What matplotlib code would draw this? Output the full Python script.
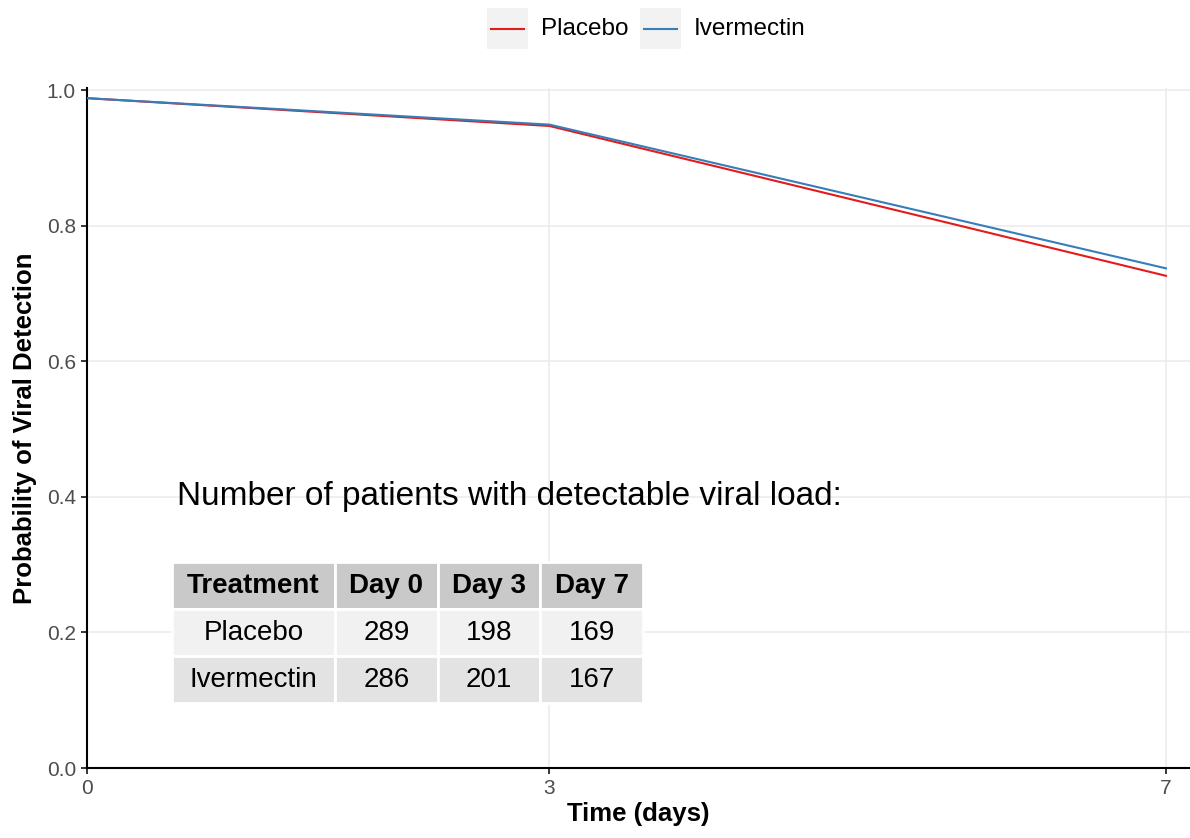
import matplotlib.pyplot as plt
from matplotlib.lines import Line2D
from matplotlib.patches import Rectangle

plt.rcParams['font.family'] = ['Liberation Sans', 'DejaVu Sans']

# survival-style curves for detectable viral load
days = [0, 3, 7]
placebo = [0.988, 0.947, 0.726]
ivermectin = [0.988, 0.949, 0.737]

# patient counts shown in the inset table
treatments = ["Placebo", "Ivermectin"]
col_labels = ["Treatment", "Day 0", "Day 3", "Day 7"]
placebo_counts = [289, 198, 169]
ivermectin_counts = [286, 201, 167]

red = "#e41a1c"
blue = "#377eb8"

fig = plt.figure(figsize=(11.9, 8.38), dpi=100)
ax = fig.add_axes([87 / 1190, 1 - 768 / 838, 1 - 87 / 1190, (768 - 88) / 838])

ax.plot(days, placebo, color=red, lw=1.5, zorder=3)
ax.plot(days, ivermectin, color=blue, lw=1.5, zorder=3)

ax.set_xlim(0, 7.156)
ax.set_ylim(0, 1.003)
ax.set_xticks(days)
ax.set_yticks([0, 0.2, 0.4, 0.6, 0.8, 1.0])
ax.set_yticklabels(["0.0", "0.2", "0.4", "0.6", "0.8", "1.0"])
ax.grid(True, color="#ebebeb", lw=1.1, zorder=0)
ax.set_axisbelow(True)
for s in ["top", "right"]:
    ax.spines[s].set_visible(False)
for s in ["left", "bottom"]:
    ax.spines[s].set_linewidth(1.5)
    ax.spines[s].set_color("black")
ax.tick_params(length=4, width=1.1, color="black", labelcolor="#4d4d4d",
               labelsize=15, pad=4)
ax.set_xlabel("Time (days)", fontsize=18.5, fontweight="bold", labelpad=3)
ax.set_ylabel("Probability of Viral Detection", fontsize=18.5,
              fontweight="bold", labelpad=7)

ax.text(0.584, 0.4, "Number of patients with detectable viral load:",
        fontsize=24, va="center", ha="left")

cells = [[treatments[0]] + [str(v) for v in placebo_counts],
         [treatments[1]] + [str(v) for v in ivermectin_counts]]
widths = [162, 102, 102, 102]
tot = sum(widths)
tab = ax.table(cellText=cells, colLabels=col_labels,
               colWidths=[w / tot * 0.427 for w in widths],
               cellLoc="center", bbox=[0.0771, 0.0956, 0.427, 0.207])
tab.auto_set_font_size(False)
row_colors = ["#c9c9c9", "#f1f1f1", "#e3e3e3"]
for (r, c), cell in tab.get_celld().items():
    cell.set_facecolor(row_colors[r])
    cell.set_edgecolor("white")
    cell.set_linewidth(2)
    cell.get_text().set_fontsize(20)
    if r == 0:
        cell.get_text().set_fontweight("bold")
tab.set_zorder(4)

# legend across the top
for x0, col, lab in [(487, red, "Placebo"), (640, blue, "Ivermectin")]:
    fig.patches.append(Rectangle((x0 / 1190, 1 - 49 / 838), 41 / 1190, 41 / 838,
                                 transform=fig.transFigure, facecolor="#f2f2f2",
                                 edgecolor="none"))
    fig.lines.append(Line2D([(x0 + 4) / 1190, (x0 + 37) / 1190],
                            [1 - 29 / 838, 1 - 29 / 838], color=col, lw=1.5,
                            transform=fig.transFigure))
    fig.text((x0 + 54) / 1190, 1 - 29 / 838, lab, fontsize=17.5, va="center",
             ha="left")

fig.savefig("out.png", dpi=100)
